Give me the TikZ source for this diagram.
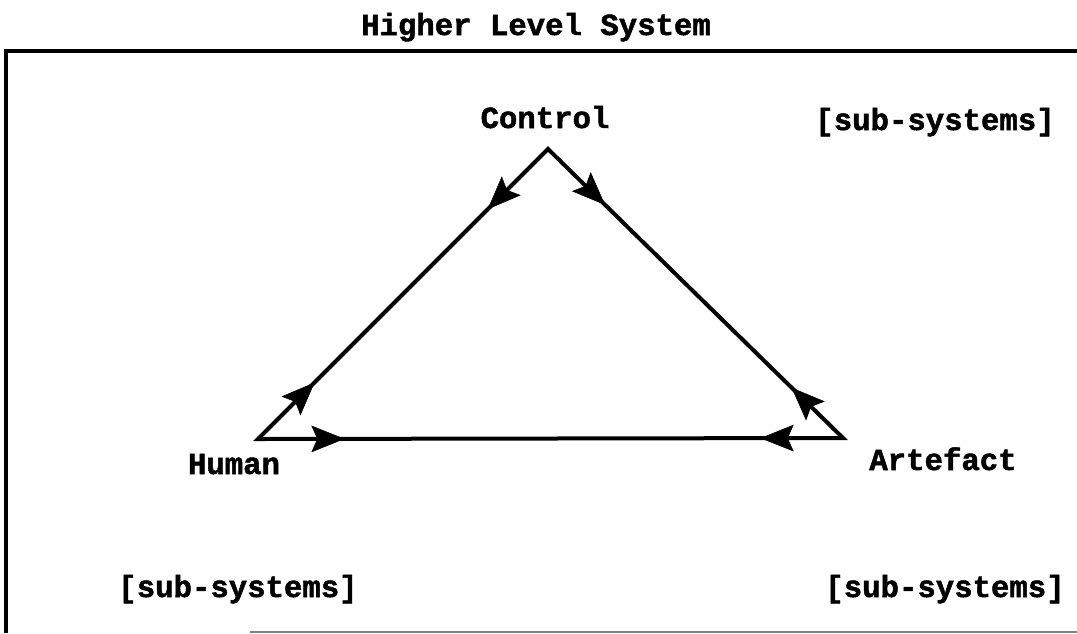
\documentclass[tikz,border=0pt]{standalone}
\usepackage{fontspec}
\setmainfont{Liberation Mono}[BoldFeatures={FakeBold=1.6}]
\usetikzlibrary{arrows.meta,decorations.markings}
\begin{document}
\begin{tikzpicture}[x=0.75pt,y=-0.75pt,
  lbl/.style={font=\fontsize{23}{24}\selectfont\bfseries, inner sep=0pt, anchor=base},
  edge/.style={line width=3pt, line join=miter},
  frame/.style={line width=2.4pt},
  tipat/.style={decoration={markings, mark=at position #1 with {\arrow{Stealth[length=25pt,width=20pt,inset=4.5pt]}}}, postaction={decorate}},
]
\useasboundingbox (0,0) rectangle (1077,633);
% frame
\draw[frame] (1077,51) -- (6,51) -- (6,633);
\draw[gray, line width=1.2pt] (250,632) -- (1077,632);
% texts
\node[lbl] (title) at (536,35) {Higher Level System};
\node[lbl] (ctl) at (545,128) {Control};
\node[lbl] (subtr) at (935,130) {[sub-systems]};
\node[lbl] (hum) at (234,474) {Human};
\node[lbl] (art) at (943,470) {Artefact};
\node[lbl] (subbl) at (238,597) {[sub-systems]};
\node[lbl] (subbr) at (945,597) {[sub-systems]};
% triangle vertices
\coordinate (C) at (548,149);
\coordinate (H) at (258,439);
\coordinate (A) at (843,438);
\draw[edge] (C) -- (H) -- (A) -- cycle;
% arrowheads
\path[tipat=64pt] (C) -- (H);
\path[tipat=60pt] (H) -- (C);
\path[tipat=60pt] (C) -- (A);
\path[tipat=54pt] (A) -- (C);
\path[tipat=65pt] (H) -- (A);
\path[tipat=62pt] (A) -- (H);
\end{tikzpicture}
\end{document}
